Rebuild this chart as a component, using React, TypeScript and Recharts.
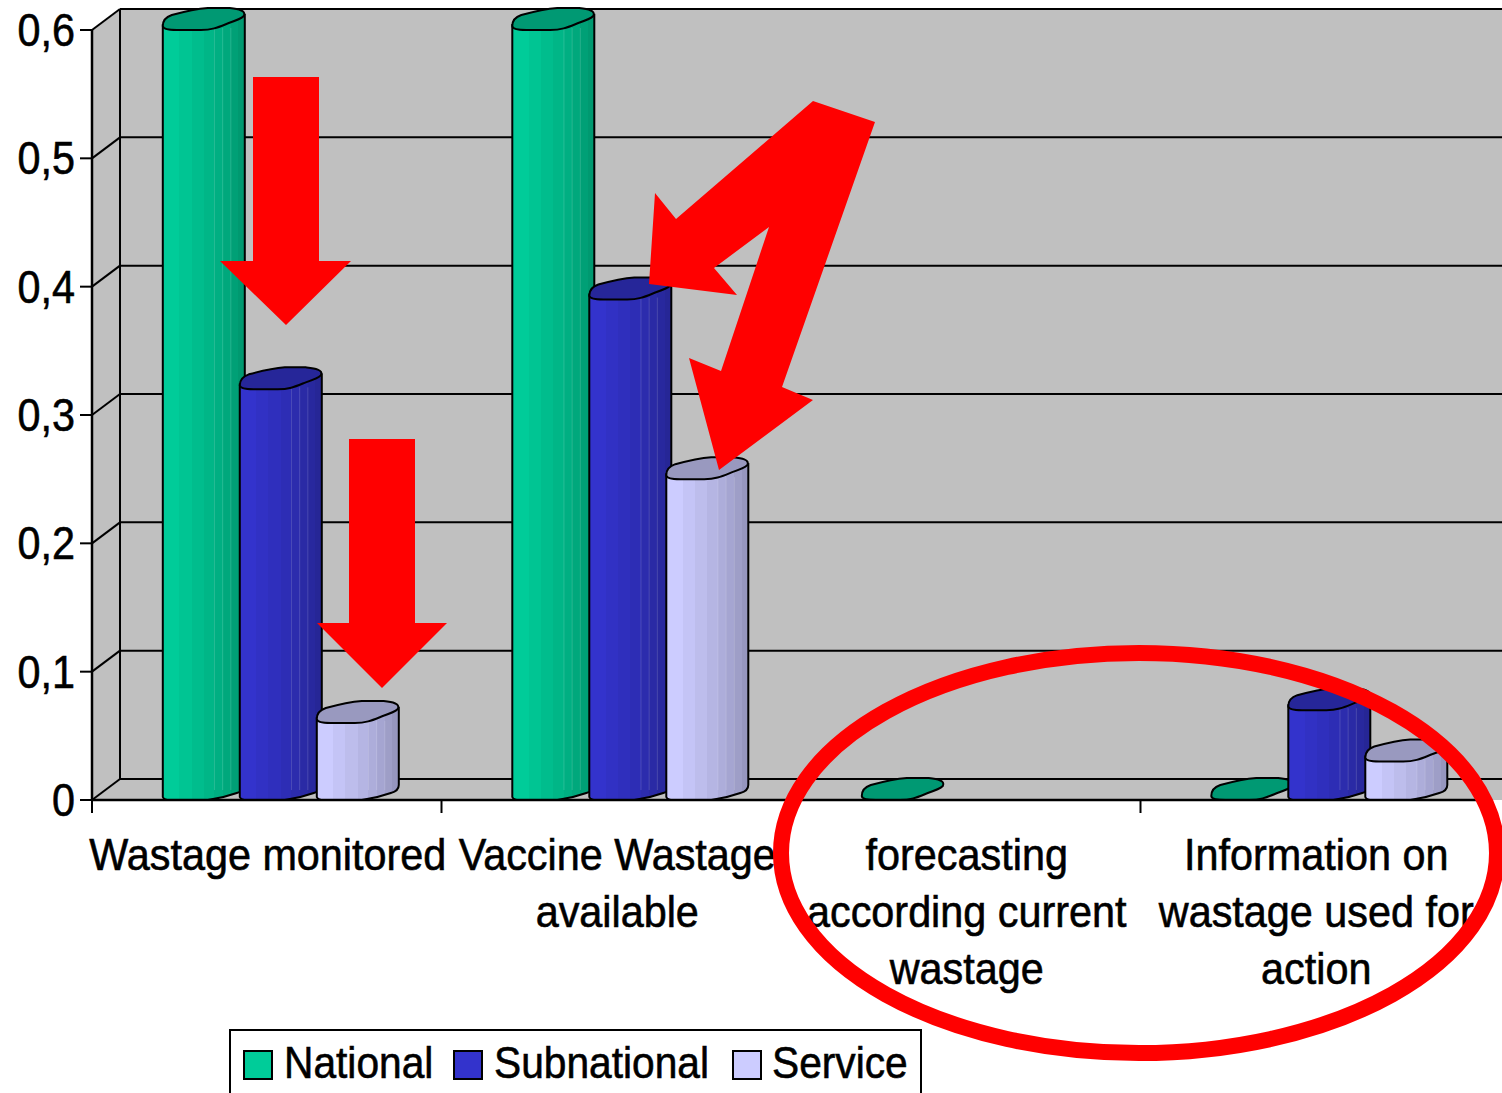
import { BarChart, Bar, XAxis, YAxis, CartesianGrid, Legend } from "recharts";

const categories = [
  "Wastage monitored",
  "Vaccine Wastage\navailable",
  "forecasting\naccording current\nwastage",
  "Information on\nwastage used for\naction",
];
const national = [0.6, 0.6, 0, 0];
const subnational = [0.32, 0.39, null, 0.07];
const service = [0.06, 0.25, null, 0.03];
const yTicks = [0, 0.1, 0.2, 0.3, 0.4, 0.5, 0.6];

const tableData = categories.map((name, i) => ({
  name,
  National: national[i],
  Subnational: subnational[i],
  Service: service[i],
}));

// no narrow face installed, so Liberation Sans is squeezed horizontally
const FONT = '"Liberation Sans", sans-serif';
const WALL = "#C0C0C0";
const RED = "#FF0000";

const seriesStyles = [
  { key: "National", id: "gradNational", light: [0, 204, 153], dark: [0, 153, 112], top: "#009973", swatchX: 12, textX: 53 },
  { key: "Subnational", id: "gradSubnational", light: [51, 51, 204], dark: [38, 38, 150], top: "#262699", swatchX: 222, textX: 263 },
  { key: "Service", id: "gradService", light: [204, 204, 255], dark: [150, 150, 190], top: "#9999BF", swatchX: 501, textX: 541 },
];

const facetEdges = [0, 0.2, 0.35, 0.5, 0.63, 0.73, 0.83, 0.92, 1];

function FacetGradient({ id, light, dark }: { id: string; light: number[]; dark: number[] }) {
  const steps = facetEdges.slice(0, -1);
  return (
    <linearGradient id={id} x1="0" y1="0" x2="1" y2="0">
      {steps.flatMap((edge, i) => {
        const t = i / (steps.length - 1);
        const c = light.map((v, k) => Math.round(v + (dark[k] - v) * t));
        const color = `rgb(${c.join(",")})`;
        return [
          <stop key={`${i}a`} offset={edge} stopColor={color} />,
          <stop key={`${i}b`} offset={facetEdges[i + 1]} stopColor={color} />,
        ];
      })}
    </linearGradient>
  );
}

// cylinder drawn on the rectangle the library hands over
function Cylinder(props: any) {
  const { x, y, height, payload, dataKey, gradient, topColor } = props;
  if (payload[dataKey] == null) return null;
  const x0 = x + 11.8;
  const w = 82;
  const h = Math.max(height, 0);
  const px = (v: number) => x0 + v;
  const body = `M${px(0)},${y - 5} L${px(0)},${y + h - 3} Q${px(1)},${y + h} ${px(7)},${y + h}
    L${px(45)},${y + h} Q${px(60)},${y + h - 2} ${px(74)},${y + h - 7} Q${px(82)},${y + h - 9} ${px(82)},${y + h - 15} L${px(82)},${y - 15} Z`;
  const top = `M${px(0)},${y - 4} C${px(0)},${y - 10} ${px(3)},${y - 13} ${px(9)},${y - 15}
    C${px(20)},${y - 18} ${px(32)},${y - 21} ${px(45)},${y - 22} L${px(66)},${y - 22}
    C${px(74)},${y - 21} ${px(84)},${y - 20} ${px(81)},${y - 14}
    C${px(78)},${y - 11} ${px(72)},${y - 9} ${px(66)},${y - 7}
    C${px(56)},${y - 3} ${px(50)},${y} ${px(38)},${y} L${px(14)},${y}
    C${px(6)},${y} ${px(0)},${y - 1} ${px(0)},${y - 4} Z`;
  return (
    <g>
      {h > 1 && <path d={body} fill={`url(#${gradient})`} stroke="#000" strokeWidth={2} />}
      {h > 20 &&
        [0.63, 0.73, 0.83].map((f) => (
          <line key={f} x1={x0 + f * w} x2={x0 + f * w} y1={y - 2} y2={y + h - 10} stroke="#fff" strokeOpacity={0.15} />
        ))}
      <path d={top} fill={topColor} stroke="#000" strokeWidth={2} strokeLinejoin="round" />
    </g>
  );
}

function GridLine(props: any) {
  const { x1, y1 } = props;
  const dx = 28;
  const dy = 21;
  return (
    <g stroke="#000" strokeWidth={2}>
      <line x1={x1} y1={y1} x2={x1 + dx} y2={y1 - dy} />
      <line x1={x1 + dx} y1={y1 - dy} x2={1502} y2={y1 - dy} />
    </g>
  );
}

function CategoryTick(props: any) {
  const { x, payload, width, visibleTicksCount } = props;
  const band = width / visibleTicksCount;
  const lines = String(payload.value).split("\n");
  return (
    <g>
      <line x1={x - band / 2} x2={x - band / 2} y1={800} y2={813} stroke="#000" strokeWidth={2} />
      <g transform={`translate(${x + 1},0) scale(0.94,1)`}>
        <text textAnchor="middle" fontFamily={FONT} fontSize={44} fill="#000" stroke="#000" strokeWidth={0.6}>
          {lines.map((line: string, i: number) => (
            <tspan key={line} x={0} y={870 + i * 57}>
              {line}
            </tspan>
          ))}
        </text>
      </g>
    </g>
  );
}

function ValueTick(props: any) {
  const { x, y, payload } = props;
  return (
    <g transform={`translate(${x},${y}) scale(0.88,1)`}>
      <text textAnchor="end" dy={16} fontFamily={FONT} fontSize={47} fill="#000" stroke="#000" strokeWidth={0.6}>
        {String(payload.value).replace(".", ",")}
      </text>
    </g>
  );
}

function LegendBox() {
  return (
    <div
      style={{
        position: "relative",
        boxSizing: "border-box",
        width: 693,
        height: 70,
        border: "2px solid #000",
        fontFamily: FONT,
        fontSize: 44,
        lineHeight: "50px",
        color: "#000",
        WebkitTextStroke: "0.6px #000",
      }}
    >
      {seriesStyles.map((s) => (
        <span key={s.key}>
          <span
            style={{
              position: "absolute",
              left: s.swatchX,
              top: 19,
              boxSizing: "border-box",
              width: 30,
              height: 30,
              border: "2px solid #000",
              background: `rgb(${s.light.join(",")})`,
            }}
          />
          <span
            style={{
              position: "absolute",
              left: s.textX,
              top: 7,
              transform: "scaleX(0.925)",
              transformOrigin: "left center",
              whiteSpace: "nowrap",
            }}
          >
            {s.key}
          </span>
        </span>
      ))}
    </div>
  );
}

export default function App() {
  return (
    <div style={{ position: "absolute", left: 0, top: 0, width: 1502, height: 1093, overflow: "hidden", background: "#fff" }}>
      {/* side wall, back wall and floor */}
      <svg width={1502} height={1093} style={{ position: "absolute", left: 0, top: 0 }}>
        <polygon points="92,30 120,10 1502,10 1502,800 92,800" fill={WALL} />
      </svg>
      <div style={{ position: "absolute", left: 0, top: 0 }}>
        <BarChart
          width={1502}
          height={1093}
          data={tableData}
          margin={{ top: 30, right: 12, bottom: 0, left: 0 }}
          barCategoryGap={59}
          barGap={0}
        >
          <defs>
            {seriesStyles.map((s) => (
              <FacetGradient key={s.id} id={s.id} light={s.light} dark={s.dark} />
            ))}
          </defs>
          <CartesianGrid vertical={false} horizontal={GridLine as any} />
          <line x1={120} y1={10} x2={120} y2={779} stroke="#000" strokeWidth={2} />
          <XAxis
            dataKey="name"
            interval={0}
            height={224}
            tickLine={false}
            axisLine={{ stroke: "#000", strokeWidth: 2.5 }}
            tick={<CategoryTick />}
          />
          <YAxis
            width={92}
            domain={[0, 0.6]}
            ticks={yTicks}
            interval={0}
            tickSize={12}
            tickMargin={5}
            axisLine={{ stroke: "#000", strokeWidth: 2.5 }}
            tickLine={{ stroke: "#000", strokeWidth: 2 }}
            tick={<ValueTick />}
          />
          <Legend
            verticalAlign="bottom"
            content={<LegendBox />}
            wrapperStyle={{ left: 229, bottom: -5, width: 693, height: 69 }}
          />
          {seriesStyles.map((s) => (
            <Bar
              key={s.key}
              dataKey={s.key}
              isAnimationActive={false}
              shape={<Cylinder gradient={s.id} topColor={s.top} dataKey={s.key} />}
            />
          ))}
        </BarChart>
      </div>
      {/* annotations drawn over the chart */}
      <svg width={1502} height={1093} style={{ position: "absolute", left: 0, top: 0, pointerEvents: "none" }}>
        <polygon points="253,77 319,77 319,261 351,261 286,325 220,261 253,261" fill={RED} />
        <polygon points="349,439 415,439 415,623 447,623 382,688 317,623 349,623" fill={RED} />
        <polygon
          points="813,101 875,122 782,387 813,400 719,470 689,358 721,371 769,227 714,268 737,295 649,284 655,193 676,219"
          fill={RED}
        />
        <ellipse cx={1139} cy={853} rx={358} ry={200} fill="none" stroke={RED} strokeWidth={16} />
      </svg>
    </div>
  );
}
